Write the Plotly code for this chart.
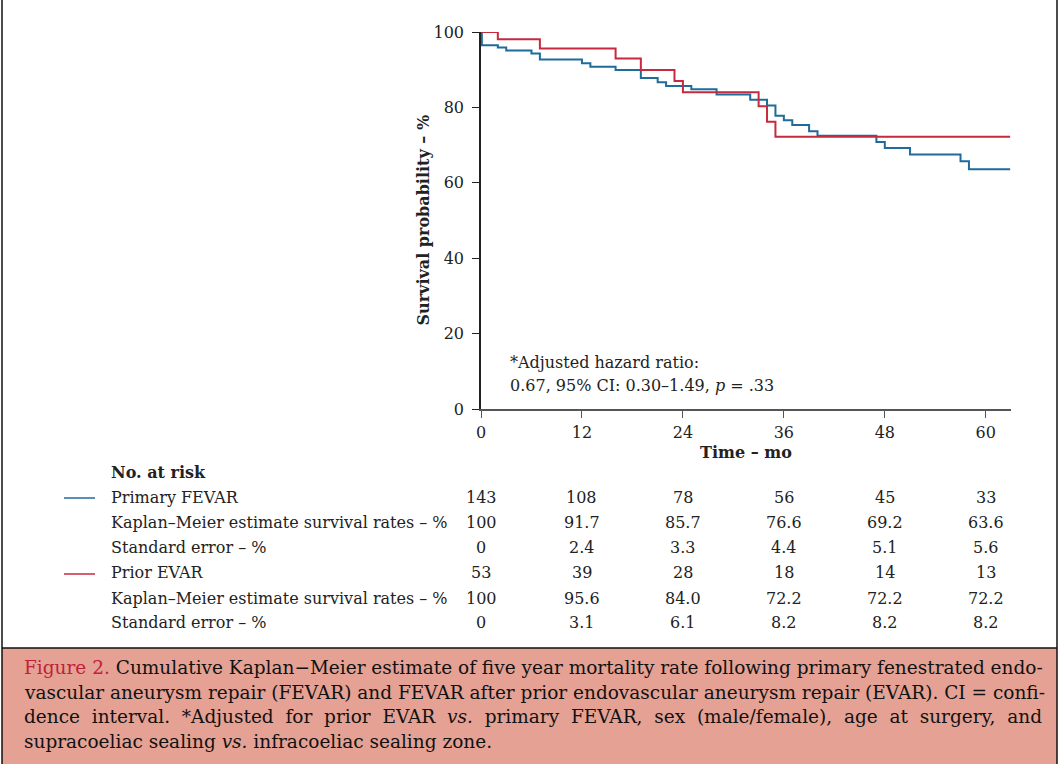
import plotly.graph_objects as go

# ---------------- data ----------------
# Kaplan-Meier step points (time in months, survival %)
fevar_times = [0.1, 2, 3, 6, 7, 12, 13, 16, 19, 21, 22, 25, 28, 32, 34, 35, 36, 37, 39, 40, 47, 48, 51, 57, 58]
fevar_surv = [96.5, 95.9, 95.1, 94.3, 92.7, 91.7, 90.8, 89.9, 87.8, 86.7, 85.7, 84.8, 83.4, 82.0, 80.5, 77.8, 76.6, 75.3, 73.7, 72.5, 70.8, 69.2, 67.5, 65.7, 63.6]
evar_times = [2, 7, 16, 19, 23, 24, 33, 34, 35]
evar_surv = [98.1, 95.6, 93.0, 89.9, 87.0, 84.0, 80.3, 76.2, 72.2]
follow_up_end = 62.9

# Numbers-at-risk table
risk_months = [0, 12, 24, 36, 48, 60]
fevar_n = ["143", "108", "78", "56", "45", "33"]
fevar_km = ["100", "91.7", "85.7", "76.6", "69.2", "63.6"]
fevar_se = ["0", "2.4", "3.3", "4.4", "5.1", "5.6"]
evar_n = ["53", "39", "28", "18", "14", "13"]
evar_km = ["100", "95.6", "84.0", "72.2", "72.2", "72.2"]
evar_se = ["0", "3.1", "6.1", "8.2", "8.2", "8.2"]
row_labels = ["Primary FEVAR", "Kaplan–Meier estimate survival rates – %", "Standard error – %",
              "Prior EVAR", "Kaplan–Meier estimate survival rates – %", "Standard error – %"]

x_ticks = [0, 12, 24, 36, 48, 60]
y_ticks = [0, 20, 40, 60, 80, 100]

NB = "\u00a0"
caption_lines = [
    "<span style='color:#C0223B'>Figure 2.</span> Cumulative Kaplan−Meier estimate of five year mortality rate following primary fenestrated endo-",
    "vascular aneurysm repair (FEVAR) and FEVAR after prior endovascular aneurysm repair (EVAR). CI = confi-",
    (" " + NB).join(["dence", "interval.", "*Adjusted", "for", "prior", "EVAR", "<i>vs.</i>", "primary", "FEVAR,",
                     "sex", "(male/female),", "age", "at", "surgery,", "and"]),
    "supracoeliac sealing <i>vs.</i> infracoeliac sealing zone.",
]

# ---------------- styling ----------------
W, H = 1059, 764
PL, PR, PT, PB = 481, 1011, 32, 409   # plot-area pixel box
BLUE = "#1F6B9B"
RED = "#C62A3E"
FONT = "DejaVu Serif"
TXT = "#222222"


def px(xp):
    return (xp - PL) / (PR - PL)


def py(yp):
    return (PB - yp) / (PB - PT)


fig = go.Figure()
fig.add_trace(go.Scatter(x=[0] + fevar_times + [follow_up_end], y=[100] + fevar_surv + [fevar_surv[-1]],
                         mode="lines", line=dict(shape="hv", color=BLUE, width=2), showlegend=False))
fig.add_trace(go.Scatter(x=[0] + evar_times + [follow_up_end], y=[100] + evar_surv + [evar_surv[-1]],
                         mode="lines", line=dict(shape="hv", color=RED, width=2), showlegend=False))

ann = []


def add_text(text, x, y, xref="paper", xanchor="left", size=16, color=TXT, **kw):
    ann.append(dict(text=text, x=x, y=y, xref=xref, yref="paper", xanchor=xanchor, yanchor="middle",
                    showarrow=False, font=dict(family=FONT, size=size, color=color), **kw))


# axis titles
add_text("<b>Survival probability – %</b>", px(423), 0.5, xanchor="center", textangle=-90)
add_text("<b>Time – mo</b>", px(746), py(452), xanchor="center")
# hazard ratio note
add_text("*Adjusted hazard ratio:", px(508), py(362))
add_text("0.67, 95% CI: 0.30–1.49, <i>p</i> = .33", px(508), py(385))

# risk table
add_text("<b>No. at risk</b>", px(109), py(472))
row_y = [497, 522, 547, 572, 598, 623]
rows = [fevar_n, fevar_km, fevar_se, evar_n, evar_km, evar_se]
for lab, yy, vals in zip(row_labels, row_y, rows):
    add_text(lab, px(109), py(yy))
    for m, v in zip(risk_months, vals):
        add_text(v, m, py(yy), xref="x", xanchor="center")

# caption
cap_y = [667, 692, 716, 741]
for line, yy in zip(caption_lines, cap_y):
    add_text(line, px(22), py(yy), size=18.5, color="#111111")

shapes = []
# caption box
shapes.append(dict(type="rect", xref="paper", yref="paper", x0=px(2), x1=px(1057), y0=py(648), y1=py(766),
                   fillcolor="#E4A194", line=dict(width=0), layer="below"))
# frame lines
shapes.append(dict(type="line", xref="paper", yref="paper", x0=px(2), x1=px(1057), y0=py(648), y1=py(648),
                   line=dict(color="#111111", width=1.5)))
shapes.append(dict(type="line", xref="paper", yref="paper", x0=px(2), x1=px(2), y0=py(-2), y1=py(766),
                   line=dict(color="#111111", width=1.5)))
shapes.append(dict(type="line", xref="paper", yref="paper", x0=px(1057), x1=px(1057), y0=py(-2), y1=py(766),
                   line=dict(color="#111111", width=1.5)))
# legend keys in table
shapes.append(dict(type="line", xref="paper", yref="paper", x0=px(64), x1=px(95), y0=py(498), y1=py(498),
                   line=dict(color=BLUE, width=1.5)))
shapes.append(dict(type="line", xref="paper", yref="paper", x0=px(64), x1=px(95), y0=py(574), y1=py(574),
                   line=dict(color=RED, width=1.5)))

fig.update_layout(
    width=W, height=H,
    margin=dict(l=PL, r=W - PR, t=PT, b=H - PB),
    paper_bgcolor="white", plot_bgcolor="white",
    font=dict(family=FONT, size=16, color=TXT),
    annotations=ann, shapes=shapes,
    xaxis=dict(range=[0, 63], tickvals=x_ticks, ticks="outside", ticklen=7, tickwidth=1.3, tickcolor="#555555",
               showline=True, linecolor="#555555", linewidth=1.5, showgrid=False, zeroline=False,
               ticklabelstandoff=1, tickfont=dict(family=FONT, size=16, color=TXT)),
    yaxis=dict(range=[0, 100], tickvals=y_ticks, ticks="outside", ticklen=7, tickwidth=1.3, tickcolor="#222222",
               showline=True, linecolor="#222222", linewidth=1.5, showgrid=False, zeroline=False,
               ticklabelstandoff=5, tickfont=dict(family=FONT, size=16, color=TXT)),
)

fig.write_html(
    "out.html",
    config={"displayModeBar": False},
    post_script="document.body.style.margin='0px';document.body.style.overflow='hidden';"
                "document.documentElement.style.overflow='hidden';",
)
